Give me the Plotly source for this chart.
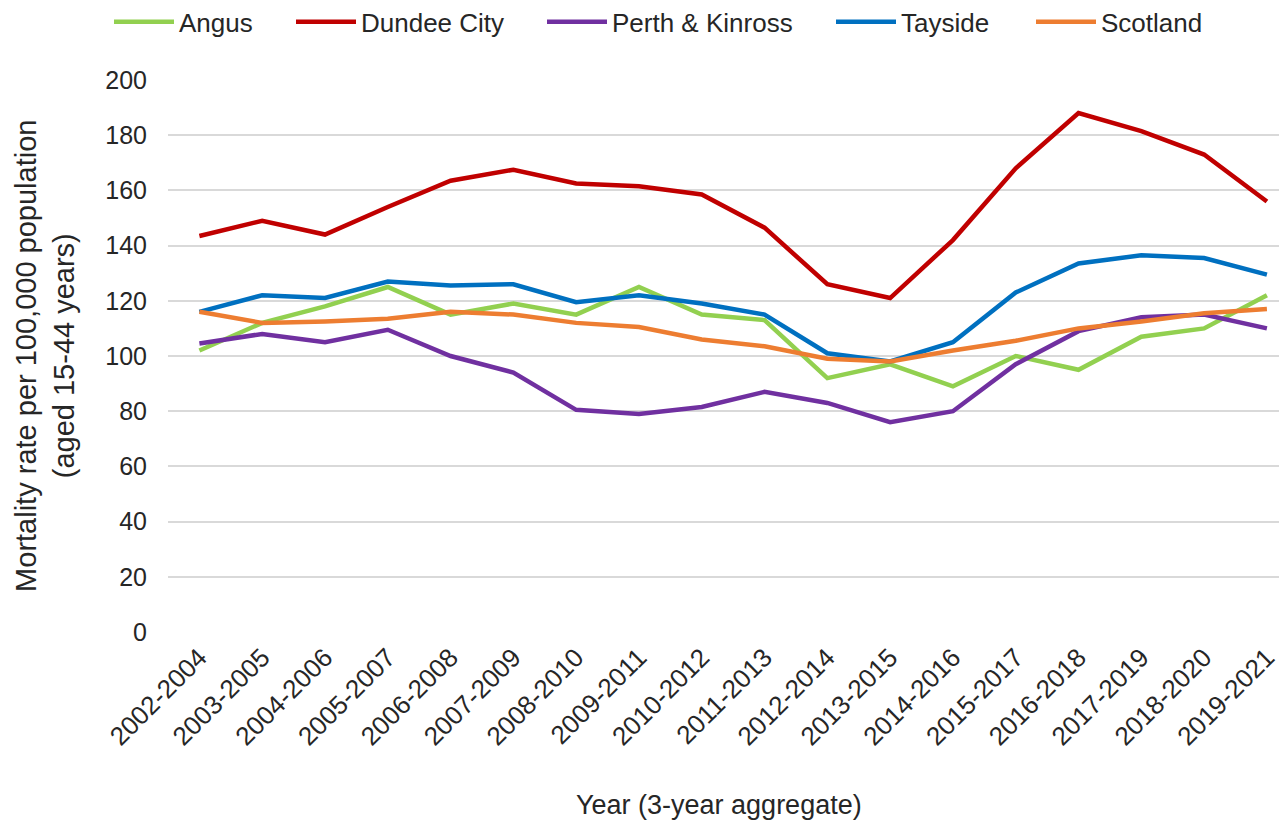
import plotly.graph_objects as go

categories = ["2002-2004", "2003-2005", "2004-2006", "2005-2007", "2006-2008", "2007-2009",
              "2008-2010", "2009-2011", "2010-2012", "2011-2013", "2012-2014", "2013-2015",
              "2014-2016", "2015-2017", "2016-2018", "2017-2019", "2018-2020", "2019-2021"]

angus = [102, 112, 118, 125, 115, 119, 115, 125, 115, 113, 92, 97, 89, 100, 95, 107, 110, 122]
dundee = [143.5, 149, 144, 154, 163.5, 167.5, 162.5, 161.5, 158.5, 146.5, 126, 121, 142, 168, 188, 181.5, 173, 156]
perth = [104.5, 108, 105, 109.5, 100, 94, 80.5, 79, 81.5, 87, 83, 76, 80, 97, 109, 114, 115, 110]
tayside = [116, 122, 121, 127, 125.5, 126, 119.5, 122, 119, 115, 101, 98, 105, 123, 133.5, 136.5, 135.5, 129.5]
scotland = [116, 112, 112.5, 113.5, 116, 115, 112, 110.5, 106, 103.5, 99, 98, 102, 105.5, 110, 112.5, 115.5, 117]

series = [
    ("Angus", angus, "#92D050"),
    ("Dundee City", dundee, "#C00000"),
    ("Perth & Kinross", perth, "#7030A0"),
    ("Tayside", tayside, "#0070C0"),
    ("Scotland", scotland, "#ED7D31"),
]

# left edge (window px) of each legend entry's line sample
legend_left_px = [115, 297, 548, 837, 1037]

FONT = "Liberation Sans, Arial, sans-serif"
TXT = "#262626"
W, H = 1279, 818  # page body has an 8px margin
LEG_PAD = 6       # legend box padding before the line sample

fig = go.Figure()
legend_layouts = {}
for i, ((name, vals, color), lx) in enumerate(zip(series, legend_left_px)):
    key = f"legend{i + 2}"
    fig.add_trace(go.Scatter(x=list(range(len(categories))), y=vals, name=name, mode="lines",
                             line=dict(color=color, width=4.5), legend=key, showlegend=True))
    legend_layouts[key] = dict(orientation="h", xref="container", yref="container",
                               x=(lx - 8 - LEG_PAD) / W, xanchor="left", y=0.983, yanchor="middle",
                               font=dict(size=26, color=TXT), itemwidth=60,
                               bgcolor="rgba(0,0,0,0)")

fig.update_layout(
    width=W, height=H, showlegend=True,
    paper_bgcolor="white", plot_bgcolor="white",
    margin=dict(l=160, r=0, t=72, b=194, autoexpand=False),
    font=dict(family=FONT, size=24, color=TXT),
    xaxis=dict(
        tickmode="array", tickvals=list(range(len(categories))), ticktext=categories,
        range=[-0.5, 17.32], tickangle=-45, showgrid=False, zeroline=False, showline=False,
        automargin=False, tickfont=dict(size=26, color=TXT), ticklabelstandoff=4,
    ),
    yaxis=dict(
        range=[0, 200], dtick=20, showgrid=True, gridcolor="#D9D9D9", gridwidth=1.5,
        zeroline=False, showline=False, ticks="", ticklabelstandoff=20, automargin=False,
        tickfont=dict(size=25, color=TXT),
    ),
    annotations=[
        dict(text="Mortality rate per 100,000 population<br>(aged 15-44 years)",
             xref="paper", yref="paper", x=-0.11, y=0.5, xanchor="center", yanchor="middle",
             textangle=-90, showarrow=False, font=dict(size=29, color=TXT)),
        dict(text="Year (3-year aggregate)",
             xref="paper", yref="paper", x=0.4924, y=-0.313, xanchor="center", yanchor="middle",
             showarrow=False, font=dict(size=27, color=TXT)),
    ],
    **legend_layouts,
)

fig.write_html("out.html")
